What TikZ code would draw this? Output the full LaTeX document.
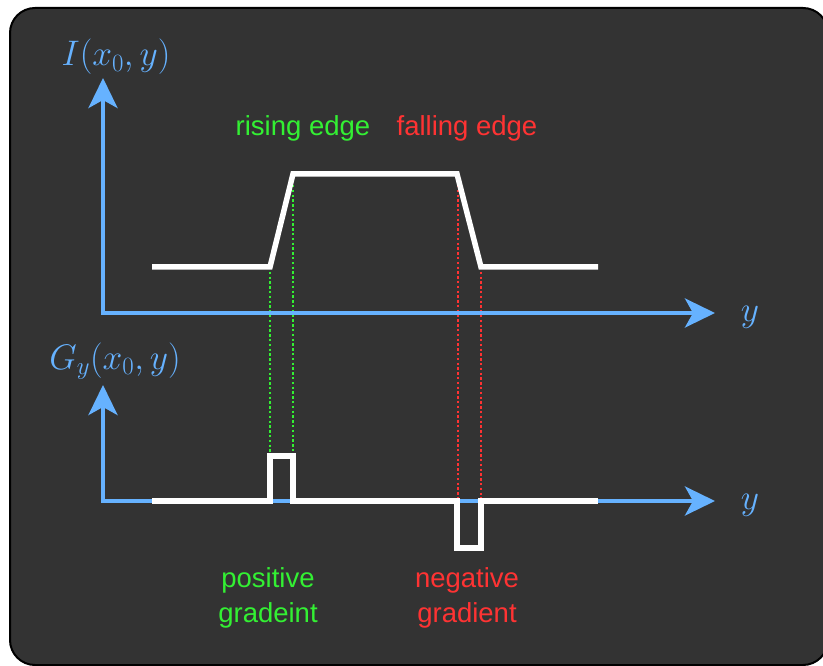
\RequirePackage{fix-cm}
\documentclass[tikz,border=0pt]{standalone}
\usepackage{fontspec}
\newfontfamily\arialf{Liberation Sans}
\usetikzlibrary{arrows.meta}
\definecolor{panel}{HTML}{333333}
\definecolor{axisblue}{HTML}{66B2FF}
\definecolor{edgegreen}{HTML}{33F033}
\definecolor{edgered}{HTML}{FF3333}
\tikzset{
  axisline/.style={draw=axisblue, line width=4pt, line join=miter,
    {Stealth[length=30pt, width=29pt, inset=8pt]}-{Stealth[length=30pt, width=29pt, inset=8pt]}},
  signal/.style={draw=white, line width=5.5pt, line join=miter},
  guide/.style={line width=2pt, dash pattern=on 2.4pt off 2.4pt},
  mathlab/.style={text=axisblue, font=\fontsize{35.5}{40}\selectfont, inner sep=0pt},
  txtlab/.style={font=\arialf\fontsize{27.5}{35.5}\selectfont, inner sep=0pt, align=center},
}
\begin{document}
\begin{tikzpicture}[x=1pt, y=-1pt]
\useasboundingbox (0,0) rectangle (823,666);
\begin{scope}
\clip (0,0) rectangle (823,666);
\draw[fill=panel, draw=black, line width=2pt, rounded corners=25pt] (10,8) rectangle (828,665);
\end{scope}

% coordinates
\coordinate (o1) at (103,313);
\coordinate (t1) at (103,78);
\coordinate (r1) at (715,313);
\coordinate (o2) at (103,501);
\coordinate (t2) at (103,385);
\coordinate (r2) at (715,501);

% guide lines
\coordinate (ga1) at (269.5,267);
\coordinate (gb1) at (269.5,456);
\coordinate (ga2) at (292.5,185);
\coordinate (gb2) at (292.5,456);
\coordinate (ra1) at (457.5,185);
\coordinate (rb1) at (457.5,501);
\coordinate (ra2) at (481,267);
\coordinate (rb2) at (481,501);
\draw[guide, edgegreen] (ga1) -- (gb1);
\draw[guide, edgegreen] (ga2) -- (gb2);
\draw[guide, edgered] (ra1) -- (rb1);
\draw[guide, edgered] (ra2) -- (rb2);

% axes
\draw[axisline] (t1) -- (o1) -- (r1);
\draw[axisline] (t2) -- (o2) -- (r2);

% signals
\draw[signal] (152,267) -- (270,267) -- (293,174) -- (457,174) -- (481,267) -- (598,267);
\draw[signal] (152,501) -- (270,501) -- (270,456) -- (293,456) -- (293,501)
  -- (457,501) -- (457,548) -- (481,548) -- (481,501) -- (598,501);

% labels
\node[mathlab] (lI) at (116,57) {$I(x_0,y)$};
\node[mathlab] (ly1) at (750,317) {$y$};
\node[mathlab] (lG) at (115,361) {$G_y(x_0,y)$};
\node[mathlab] (ly2) at (750,505) {$y$};
\node[txtlab, text=edgegreen] (rise) at (303,128) {rising edge};
\node[txtlab, text=edgered] (fall) at (467,128) {falling edge};
\node[txtlab, text=edgegreen] (pos) at (268,598) {positive\\gradeint};
\node[txtlab, text=edgered] (neg) at (467,598) {negative\\gradient};
\end{tikzpicture}
\end{document}
